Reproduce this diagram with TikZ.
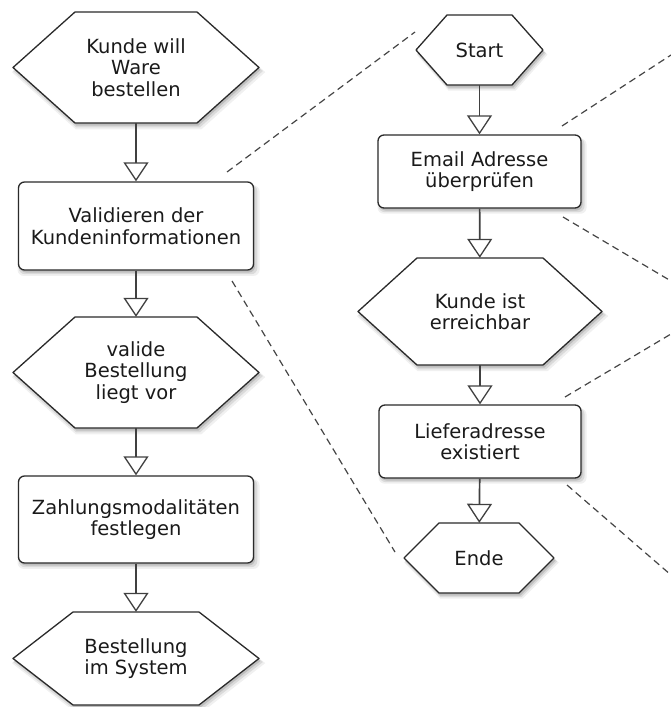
\documentclass[tikz,border=0pt]{standalone}
\usepackage{fontspec}
\setmainfont{DejaVu Sans}
\usetikzlibrary{arrows.meta,shadows}

\definecolor{ink}{HTML}{1A1A1A}
\definecolor{edge}{HTML}{2A2A2A}
\definecolor{wire}{HTML}{404040}
\definecolor{dashgrey}{HTML}{454545}

\tikzset{
  softshadow/.style={
    general shadow={fill=black, opacity=0.13, shadow xshift=1.5pt, shadow yshift=-2.5pt},
    general shadow={fill=black, opacity=0.09, shadow xshift=2pt, shadow yshift=-3.5pt, shadow scale=1.015},
    general shadow={fill=black, opacity=0.06, shadow xshift=2.5pt, shadow yshift=-4.5pt, shadow scale=1.03}},
  shapeline/.style={draw=edge, line width=1.3pt, fill=white, line join=round, softshadow},
  txt/.style={text=ink, font=\fontsize{19.5}{21.5}\selectfont, align=center, inner sep=0pt},
  stepbox/.style={shapeline, txt, rounded corners=6pt},
  flow/.style={draw=wire, line width=1.7pt,
    -{Triangle[length=19pt, width=25pt, fill=white, line width=1.3pt]}},
  zoomline/.style={draw=dashgrey, line width=1.2pt, dash pattern=on 7pt off 4.5pt},
}

% hexagonal terminal: name, centre x, centre y, width, height, slant, text
\newcommand\hexstep[7]{%
  \path[shapeline] ({#2-#4/2},#3) -- ({#2-#4/2+#6},{#3-#5/2})
    -- ({#2+#4/2-#6},{#3-#5/2}) -- ({#2+#4/2},#3)
    -- ({#2+#4/2-#6},{#3+#5/2}) -- ({#2-#4/2+#6},{#3+#5/2}) -- cycle;
  \node[txt, minimum width=#4pt, minimum height=#5pt] (#1) at (#2,#3) {#7};}

\begin{document}
\begin{tikzpicture}[x=1pt, y=-1pt]
\useasboundingbox (0,0) rectangle (671,707);

% main process (left column)
\hexstep{order}{136}{67.5}{246}{111}{62}{Kunde will\\Ware\\bestellen}
\node[stepbox, minimum width=235pt, minimum height=88pt] (validate) at (136,226)
  {Validieren der\\Kundeninformationen};
\hexstep{valid}{136}{372.5}{246}{111}{62}{valide\\Bestellung\\liegt vor}
\node[stepbox, minimum width=235pt, minimum height=87pt] (payment) at (136,519.5)
  {Zahlungsmodalitäten\\festlegen};
\hexstep{stored}{136}{658.5}{246}{93}{60}{Bestellung\\im System}

\draw[flow] (order) -- (validate);
\draw[flow] (validate) -- (valid);
\draw[flow] (valid) -- (payment);
\draw[flow] (payment) -- (stored);

% refinement of the validation step (right column)
\hexstep{start}{479.5}{50}{127}{70}{31}{Start}
\node[stepbox, minimum width=203pt, minimum height=73pt] (email) at (479.5,171.5)
  {Email Adresse\\überprüfen};
\hexstep{reach}{480}{311.5}{244}{107}{59}{Kunde ist\\erreichbar}
\node[stepbox, minimum width=202pt, minimum height=73pt] (address) at (480,441.5)
  {Lieferadresse\\existiert};
\hexstep{finish}{479}{558}{150}{70}{35}{Ende}

\draw[flow] (start) -- (email);
\draw[flow] (email) -- (reach);
\draw[flow] (reach) -- (address);
\draw[flow] (address) -- (finish);

% dashed zoom lines
\coordinate (z1a) at (227,172);  \coordinate (z1b) at (415,32);
\coordinate (z2a) at (232,281);  \coordinate (z2b) at (395,552);
\coordinate (z3a) at (562,126);  \coordinate (z3b) at (671,55);
\coordinate (z4a) at (563,217);  \coordinate (z4b) at (671,281);
\coordinate (z5a) at (565,397);  \coordinate (z5b) at (671,334);
\coordinate (z6a) at (567,485);  \coordinate (z6b) at (671,575);
\draw[zoomline] (z1a) -- (z1b);
\draw[zoomline] (z2a) -- (z2b);
\draw[zoomline] (z3a) -- (z3b);
\draw[zoomline] (z4a) -- (z4b);
\draw[zoomline] (z5a) -- (z5b);
\draw[zoomline] (z6a) -- (z6b);
\end{tikzpicture}
\end{document}
